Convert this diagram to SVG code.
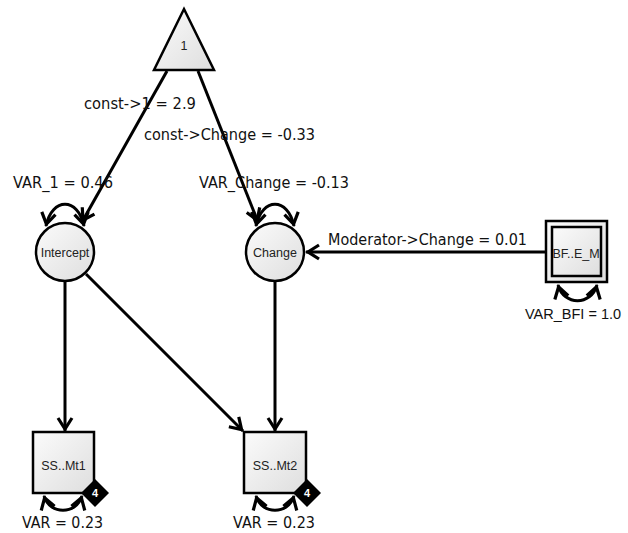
<svg xmlns="http://www.w3.org/2000/svg" width="628" height="533" viewBox="0 0 628 533">
  <style>
    .node { stroke: #000; stroke-width: 2.5; fill: url(#nodeFill); }
    .edge { stroke: #000; stroke-width: 3; fill: none; }
    .path { marker-end: url(#head); }
    .loop { marker-start: url(#head); marker-end: url(#head); }
    .label { font-family: "DejaVu Sans", sans-serif; font-size: 15px; fill: #111; }
    .label.narrow { font-family: "Liberation Sans", Arial, sans-serif; font-size: 14.5px; }
    .name { font-family: "Liberation Sans", Arial, sans-serif; font-size: 12.5px; fill: #222; text-anchor: middle; }
    .badge { fill: #000; }
    .badgeText { font-family: "Liberation Sans", Arial, sans-serif; font-size: 11px; font-weight: bold; fill: #fff; text-anchor: middle; }
  </style>
  <defs>
    <linearGradient id="nodeFill" x1="0" y1="0" x2="1" y2="1">
      <stop offset="0" stop-color="#fbfbfb"/>
      <stop offset="1" stop-color="#dedede"/>
    </linearGradient>
    <marker id="head" markerUnits="userSpaceOnUse" viewBox="-17 -10 20 20" markerWidth="20" markerHeight="20" refX="0" refY="0" orient="auto-start-reverse">
      <path d="M-13,-7 L-2,0 L-13,7" fill="none" stroke="#000" stroke-width="3.2" stroke-linejoin="miter"/>
    </marker>
  </defs>

  <rect width="628" height="533" fill="#fff"/>

  <!-- connectors -->
  <g id="connectors">
    <path class="edge path" d="M167,71 L82,222"/>
    <path class="edge path" d="M198,71 L258,222"/>
    <path class="edge path" d="M65,282 L65,431"/>
    <path class="edge path" d="M275,282 L275,431"/>
    <path class="edge path" d="M86,274 L243,431"/>
    <path class="edge path" d="M546,252 L306,252"/>
    <!-- variance loops -->
    <path class="edge loop" d="M46,226 C52,197 78,197 84,226"/>
    <path class="edge loop" d="M256,226 C262,197 288,197 294,226"/>
    <path class="edge loop" d="M44,496 C50,515 76,515 82,496"/>
    <path class="edge loop" d="M256,496 C262,515 288,515 294,496"/>
    <path class="edge loop" d="M558,285 C564,306 591,306 597,285"/>
  </g>

  <!-- edge labels -->
  <g id="labels">
    <text class="label" x="84" y="109" textLength="112" lengthAdjust="spacingAndGlyphs">const-&gt;1 = 2.9</text>
    <text class="label" x="144" y="140" textLength="171" lengthAdjust="spacingAndGlyphs">const-&gt;Change = -0.33</text>
    <text class="label" x="13" y="188" textLength="100" lengthAdjust="spacingAndGlyphs">VAR_1 = 0.46</text>
    <text class="label" x="199" y="188" textLength="150" lengthAdjust="spacingAndGlyphs">VAR_Change = -0.13</text>
    <text class="label" x="328" y="245" textLength="199" lengthAdjust="spacingAndGlyphs">Moderator-&gt;Change = 0.01</text>
    <text class="label narrow" x="525" y="319">VAR_BFI = 1.0</text>
    <text class="label" x="22" y="528" textLength="81" lengthAdjust="spacingAndGlyphs">VAR = 0.23</text>
    <text class="label" x="233" y="528" textLength="82" lengthAdjust="spacingAndGlyphs">VAR = 0.23</text>
  </g>

  <!-- constant -->
  <g id="const">
    <polygon class="node" points="184,9 214,70 154,70"/>
    <text class="name" x="184" y="50">1</text>
  </g>

  <!-- latent variables -->
  <g id="Intercept">
    <circle class="node" cx="65" cy="252" r="29"/>
    <text class="name" x="65" y="257">Intercept</text>
  </g>
  <g id="Change">
    <circle class="node" cx="275" cy="252" r="29"/>
    <text class="name" x="275" y="257">Change</text>
  </g>

  <!-- moderator (definition variable) -->
  <g id="Moderator">
    <rect class="node" x="546" y="221" width="61" height="61"/>
    <rect class="node" x="552" y="227" width="49" height="49" stroke-width="2"/>
    <text class="name" x="576" y="258" font-size="12.8">BF..E_M</text>
  </g>

  <!-- manifest variables -->
  <g id="SSMt1">
    <rect class="node" x="33" y="432" width="61" height="61"/>
    <text class="name" x="63.5" y="469.5">SS..Mt1</text>
    <polygon class="badge" points="95,479 109,493 95,507 81,493"/>
    <text class="badgeText" x="95" y="497">4</text>
  </g>
  <g id="SSMt2">
    <rect class="node" x="244" y="432" width="62" height="61"/>
    <text class="name" x="275" y="469.5">SS..Mt2</text>
    <polygon class="badge" points="307,479 321,493 307,507 293,493"/>
    <text class="badgeText" x="307" y="497">4</text>
  </g>
</svg>
